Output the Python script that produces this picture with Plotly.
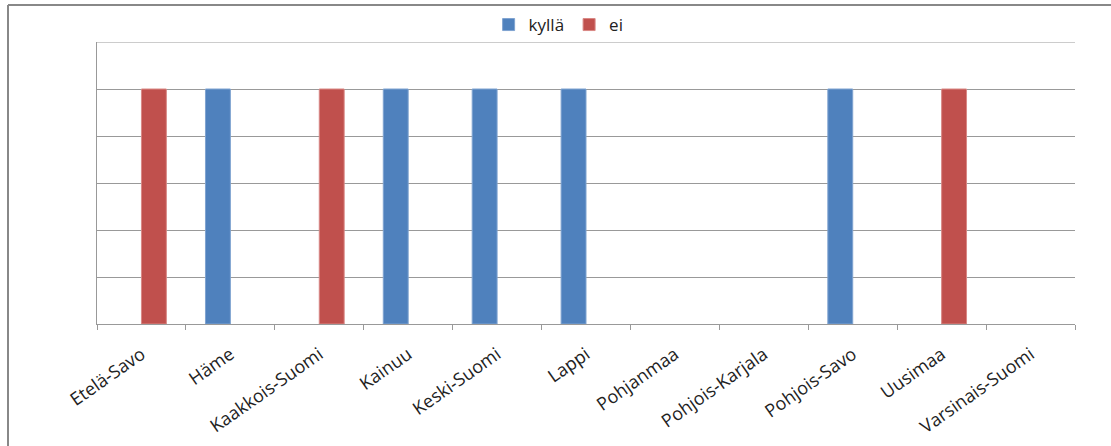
import plotly.graph_objects as go

categories = ["Etelä-Savo", "Häme", "Kaakkois-Suomi", "Kainuu", "Keski-Suomi", "Lappi",
              "Pohjanmaa", "Pohjois-Karjala", "Pohjois-Savo", "Uusimaa", "Varsinais-Suomi"]
kylla = [None, 1, None, 1, 1, 1, None, None, 1, None, None]
ei = [1, None, 1, None, None, None, None, None, None, 1, None]

W, H = 1111, 446
L, R, T, B = 97, 36, 42, 122
pw, ph = W - L - R, H - T - B

fig = go.Figure()
fig.add_trace(go.Bar(name="kyllä", x=categories, y=kylla,
                     marker=dict(color="#4F81BD", line=dict(color="#7FA3D0", width=1))))
fig.add_trace(go.Bar(name="ei", x=categories, y=ei,
                     marker=dict(color="#C0504D", line=dict(color="#D98885", width=1))))

fig.update_layout(
    width=W, height=H,
    margin=dict(l=L, r=R, t=T, b=B, autoexpand=False),
    paper_bgcolor="white", plot_bgcolor="white",
    barmode="group", bargap=0.44, bargroupgap=0,
    font=dict(family="Open Sans, Liberation Sans, sans-serif", size=16, color="#222"),
    showlegend=True,
    legend=dict(orientation="h", x=0.472, xanchor="center", y=1 + (T - 25) / ph, yanchor="middle",
                font=dict(size=17), itemwidth=30, traceorder="normal",
                bgcolor="rgba(0,0,0,0)"),
    xaxis=dict(type="category", tickson="boundaries", ticks="outside", ticklen=5,
               tickcolor="#999", showline=True, linecolor="#999", linewidth=1,
               showgrid=False, tickangle=-35, tickfont=dict(size=18), ticklabelstandoff=12,
               automargin=False),
    yaxis=dict(range=[0, 1.2], dtick=0.2, showticklabels=False, showgrid=True,
               gridcolor="#999", gridwidth=1, showline=True, linecolor="#999",
               linewidth=1, zeroline=False, ticks="", automargin=False),
)
# top gridline at 1.2
fig.add_shape(type="line", xref="paper", yref="y", x0=0, x1=1, y0=1.2, y1=1.2,
              line=dict(color="#999", width=1))
# outer chart border (cropped at right and bottom)
bx = (8 - L) / pw
by = 1 + (T - 5) / ph
fig.add_shape(type="line", xref="paper", yref="paper", x0=bx, x1=bx, y0=by, y1=-1,
              line=dict(color="#888", width=2))
fig.add_shape(type="line", xref="paper", yref="paper", x0=bx, x1=2, y0=by, y1=by,
              line=dict(color="#888", width=2))

fig.write_html("out.html")
